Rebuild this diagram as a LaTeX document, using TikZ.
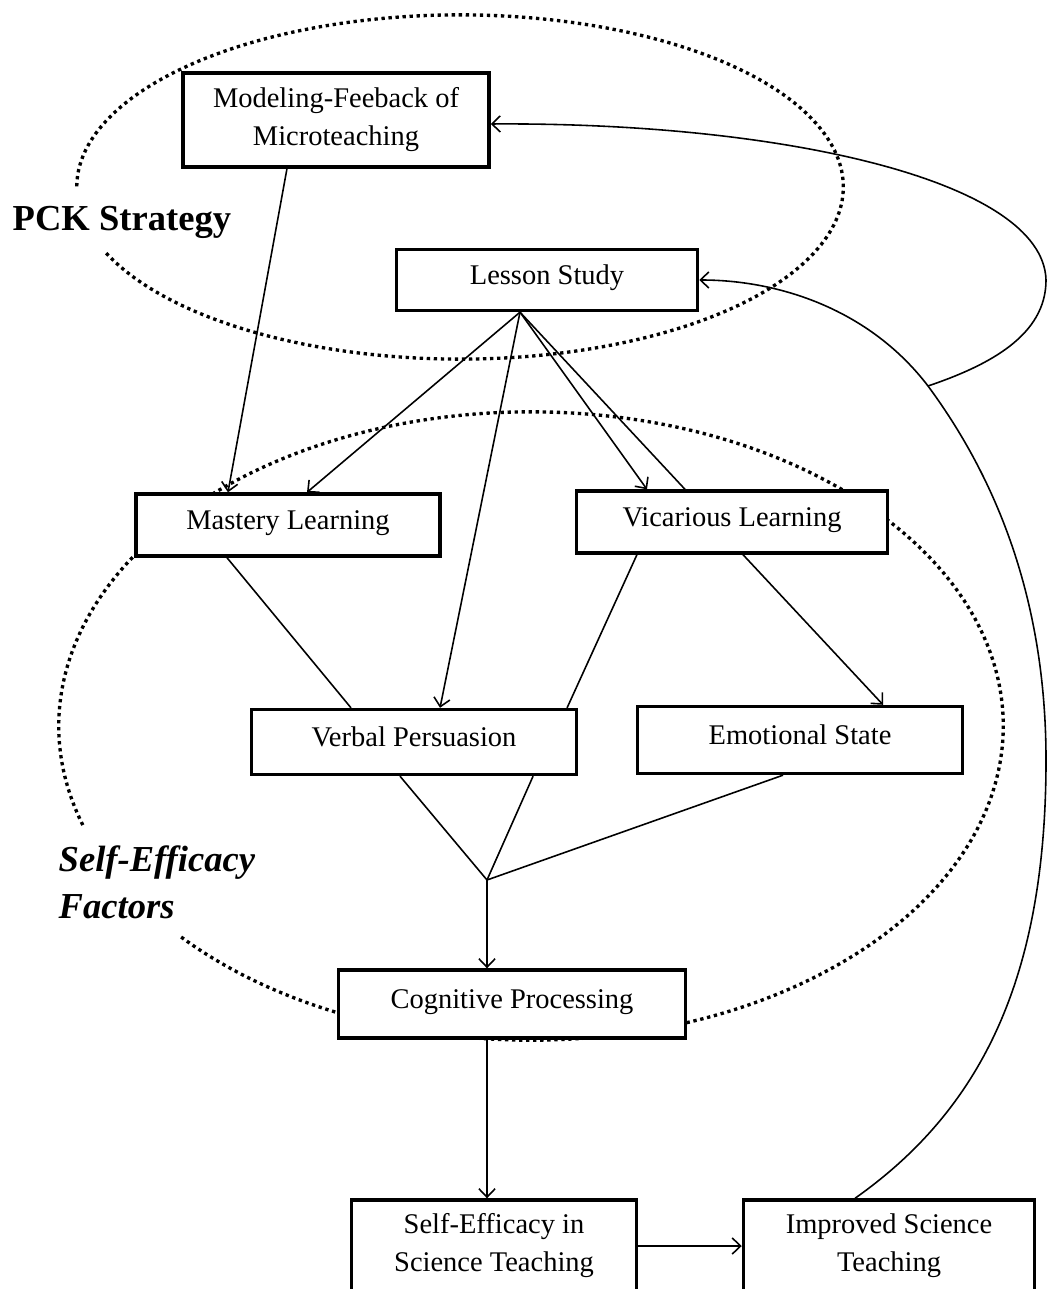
\documentclass[tikz,border=0pt]{standalone}
\usepackage{fontspec}
\setmainfont{Liberation Serif}
\usetikzlibrary{arrows.meta}
\begin{document}
\begin{tikzpicture}[x=0.01cm,y=-0.01cm,>={Straight Barb[length=2.4pt,width=4.6pt]},
  factor/.style={draw,line width=0.95pt,fill=white,inner sep=0pt,
    font=\fontsize{8.1}{10.8}\selectfont,align=center},
  oneline/.style={text height=6pt,text depth=3.5pt},
  link/.style={line width=0.45pt},
  cloud/.style={line width=0.95pt,dash pattern=on 0.95pt off 1.05pt}]
  \useasboundingbox (0,0) rectangle (1047,1289);
  % dotted groupings
  \coordinate (pckc) at (460,187);
  \coordinate (sefc) at (531,726);
  \draw[cloud] (pckc) ++(202.6:3.83cm and 1.72cm)
        arc[start angle=202.6,end angle=541,x radius=3.83cm,y radius=1.72cm];
  \draw[cloud] (sefc) ++(222.2:4.72cm and 3.14cm)
        arc[start angle=222.2,end angle=558.4,x radius=4.72cm,y radius=3.14cm];
  \node[anchor=west,inner sep=0pt,font=\bfseries\fontsize{10.4}{12}\selectfont] (pck) at (12,222) {PCK Strategy};
  \node[anchor=west,inner sep=0pt,align=left,font=\bfseries\itshape\fontsize{10.4}{13.4}\selectfont] (sef) at (58,882) {Self-Efficacy\\Factors};
  % boxes
  \node[factor,minimum width=3.06cm,minimum height=0.94cm] (MF) at (336,120) {Modeling-Feeback of\\Microteaching};
  \node[factor,oneline,minimum width=3.01cm,minimum height=0.61cm] (LS) at (547,280) {Lesson Study};
  \node[factor,oneline,minimum width=3.04cm,minimum height=0.62cm] (ML) at (288,525) {Mastery Learning};
  \node[factor,oneline,minimum width=3.11cm,minimum height=0.62cm] (VL) at (732,522) {Vicarious Learning};
  \node[factor,oneline,minimum width=3.25cm,minimum height=0.65cm] (VP) at (414,742) {Verbal Persuasion};
  \node[factor,oneline,minimum width=3.25cm,minimum height=0.67cm] (ES) at (800,740) {Emotional State};
  \node[factor,oneline,minimum width=3.47cm,minimum height=0.68cm] (CP) at (512,1004) {Cognitive Processing};
  \node[factor,minimum width=2.85cm,minimum height=0.92cm] (SE) at (494,1246) {Self-Efficacy in\\Science Teaching};
  \node[factor,minimum width=2.91cm,minimum height=0.92cm] (IST) at (889,1246) {Improved Science\\Teaching};
  % connectors
  \coordinate (hub) at (487,880);
  \coordinate (fb) at (928,386);
  \draw[link,->] ([xshift=-0.49cm]MF.south) -- ([xshift=-0.6cm]ML.north);
  \draw[link,->] ([xshift=-0.27cm]LS.south) -- ([xshift=0.19cm]ML.north);
  \draw[link,->] ([xshift=-0.27cm]LS.south) -- ([xshift=0.26cm]VP.north);
  \draw[link,->] ([xshift=-0.27cm]LS.south) -- ([xshift=-0.85cm]VL.north);
  \draw[link] ([xshift=-0.27cm]LS.south) -- ([xshift=-0.47cm]VL.north);
  \draw[link] ([xshift=-0.61cm]ML.south) -- ([xshift=-0.63cm]VP.north);
  \draw[link] ([xshift=-0.95cm]VL.south) -- ([xshift=1.53cm]VP.north);
  \draw[link,->] ([xshift=0.11cm]VL.south) -- ([xshift=0.83cm]ES.north);
  \draw[link] ([xshift=-0.14cm]VP.south) -- (hub);
  \draw[link] ([xshift=1.19cm]VP.south) -- (hub);
  \draw[link] ([xshift=-0.17cm]ES.south) -- (hub);
  \draw[link,->] (hub) -- ([xshift=-0.25cm]CP.north);
  \draw[link,->] ([xshift=-0.25cm]CP.south) -- ([xshift=-0.07cm]SE.north);
  \draw[link,->] (SE.east) -- (IST.west);
  \draw[link,->] ([xshift=-0.34cm]IST.north) .. controls (980,1110) and (1046,980) .. (1046,760)
        .. controls (1046,590) and (990,470) .. (fb) .. controls (870,310) and (780,280) .. (LS.east);
  \draw[link,->] (fb) .. controls (990,365) and (1046,335) .. (1046,280)
        .. controls (1043,180) and (780,122) .. ([yshift=-0.04cm]MF.east);
\end{tikzpicture}
\end{document}
